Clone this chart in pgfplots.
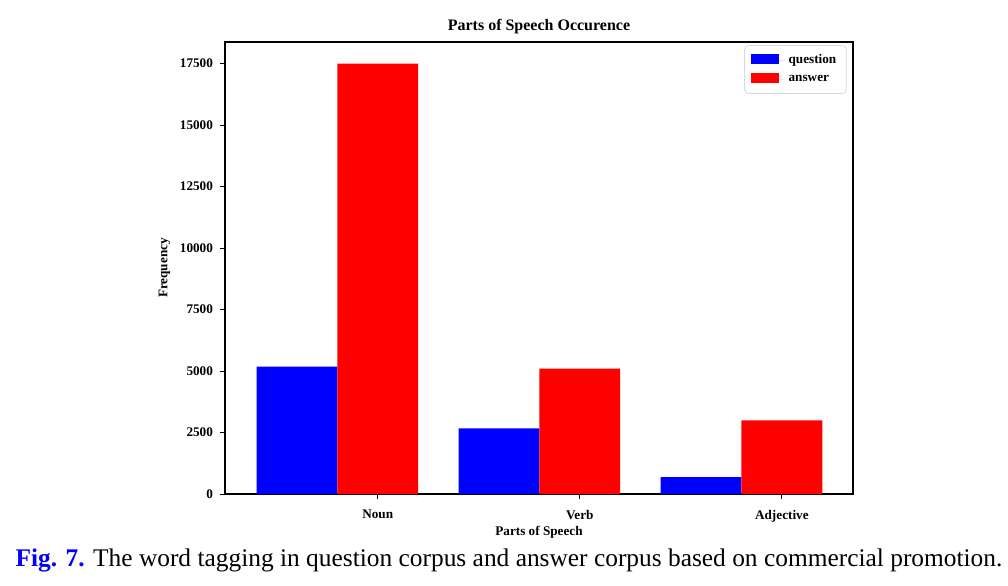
\documentclass[border=0pt]{standalone}
\usepackage{fontspec}
\setmainfont{Liberation Serif}
\usepackage{pgfplots}
\pgfplotsset{compat=1.18}
\begin{document}
\begin{tikzpicture}[x=0.5pt,y=0.5pt]
\useasboundingbox (0,0) rectangle (1008,585);
\begin{axis}[
  at={(112.5pt,45.5pt)}, anchor=south west,
  width=314pt, height=226pt, scale only axis,
  xmin=-0.356, xmax=2.752, ymin=0, ymax=18375,
  scaled y ticks=false,
  axis line style={black, line width=0.6pt},
  tick style={black, line width=0.5pt},
  tick align=outside, major tick length=2.5pt,
  xtick pos=bottom, ytick pos=left,
  xtick={0.4,1.4,2.4}, xticklabels={Noun,Verb,Adjective},
  ytick={0,2500,5000,7500,10000,12500,15000,17500},
  yticklabels={0,2500,5000,7500,10000,12500,15000,17500},
  ticklabel style={font=\bfseries\fontsize{6.6}{8}\selectfont},
  xticklabel style={yshift=-2pt},
  title={Parts of Speech Occurence},
  title style={font=\bfseries\fontsize{8}{10}\selectfont, yshift=-5.5pt},
  xlabel={Parts of Speech}, ylabel={Frequency},
  label style={font=\bfseries\fontsize{6.6}{8}\selectfont},
  xlabel style={yshift=5pt},
  ylabel style={yshift=-2pt},
  legend style={at={(0.99,0.993)}, anchor=north east, draw=black!15, rounded corners=2pt,
    font=\bfseries\fontsize{6.6}{8}\selectfont, row sep=0.3pt, inner xsep=3pt, inner ysep=2.5pt},
  legend cell align=left,
  legend image code/.code={\fill[#1, sharp corners] (0pt,-1.6pt) rectangle (14pt,3.4pt);
    \path (0pt,0pt) -- (17pt,0pt);},
]
\addplot[ybar, bar width=0.4, bar shift=0pt, fill={rgb,255:red,0;green,0;blue,255}, draw=none]
  coordinates {(0,5175) (1,2670) (2,690)};
\addlegendentry{question}
\addplot[ybar, bar width=0.4, bar shift=0pt, fill={rgb,255:red,255;green,0;blue,0}, draw=none]
  coordinates {(0.4,17500) (1.4,5095) (2.4,2990)};
\addlegendentry{answer}
\end{axis}
\node at (509,25) {\fontsize{12.7}{14}\selectfont\textcolor{blue}{\textbf{Fig. 7.}} The word tagging in question corpus and answer corpus based on commercial promotion.};
\end{tikzpicture}
\end{document}
